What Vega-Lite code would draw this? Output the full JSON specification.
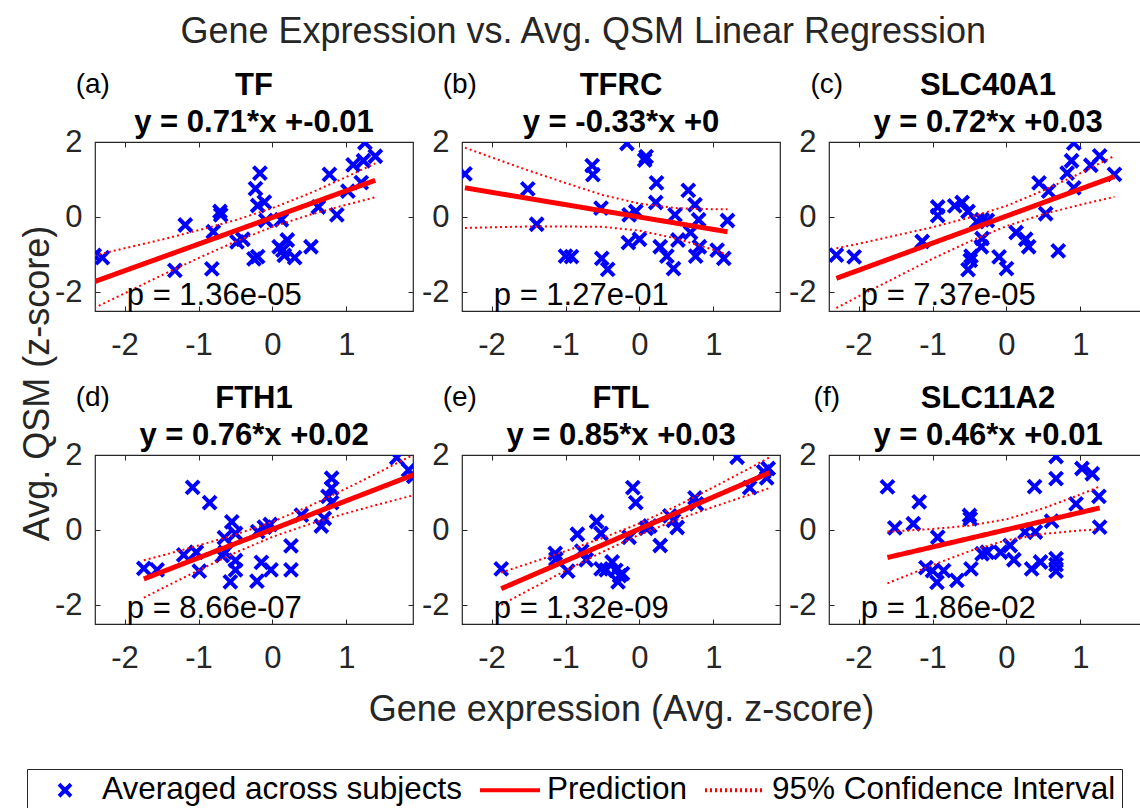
{
  "$schema": "https://vega.github.io/schema/vega-lite/v6.json",
  "background": "white",
  "padding": {"left": 18, "top": 13, "right": 5, "bottom": 5},
  "bounds": "flush",
  "title": {"text": "Gene Expression vs. Avg. QSM Linear Regression", "fontSize": 36, "fontWeight": "normal", "color": "#262626", "anchor": "middle", "offset": 19},
  "columns": 3,
  "spacing": {"row": 144, "column": 49},
  "datasets": {
    "pts": [
      {"p":"a","x":-2.41,"y":-1.02},{"p":"a","x":-2.30,"y":-1.08},{"p":"a","x":-1.32,"y":-1.42},{"p":"a","x":-1.18,"y":-0.21},{"p":"a","x":-0.82,"y":-1.38},{"p":"a","x":-0.80,"y":-0.39},{"p":"a","x":-0.71,"y":0.15},{"p":"a","x":-0.70,"y":0.06},{"p":"a","x":-0.48,"y":-0.66},{"p":"a","x":-0.40,"y":-0.59},{"p":"a","x":-0.25,"y":-1.11},{"p":"a","x":-0.20,"y":-1.05},{"p":"a","x":-0.23,"y":0.76},{"p":"a","x":-0.17,"y":1.17},{"p":"a","x":-0.20,"y":0.31},{"p":"a","x":-0.11,"y":0.40},{"p":"a","x":-0.09,"y":-0.09},{"p":"a","x":0.09,"y":-0.79},{"p":"a","x":0.14,"y":-0.88},{"p":"a","x":0.16,"y":-1.02},{"p":"a","x":0.20,"y":-0.61},{"p":"a","x":0.30,"y":-1.08},{"p":"a","x":0.12,"y":-0.07},{"p":"a","x":0.52,"y":-0.79},{"p":"a","x":0.62,"y":0.27},{"p":"a","x":0.77,"y":1.14},{"p":"a","x":0.87,"y":0.06},{"p":"a","x":1.02,"y":0.69},{"p":"a","x":1.09,"y":1.39},{"p":"a","x":1.20,"y":0.92},{"p":"a","x":1.23,"y":1.50},{"p":"a","x":1.25,"y":1.98},{"p":"a","x":1.39,"y":1.62},
      {"p":"b","x":-2.36,"y":1.15},{"p":"b","x":-1.51,"y":0.75},{"p":"b","x":-1.39,"y":-0.19},{"p":"b","x":-1.00,"y":-1.04},{"p":"b","x":-0.92,"y":-1.05},{"p":"b","x":-0.64,"y":1.37},{"p":"b","x":-0.63,"y":1.13},{"p":"b","x":-0.52,"y":0.24},{"p":"b","x":-0.51,"y":-1.10},{"p":"b","x":-0.43,"y":-1.39},{"p":"b","x":-0.17,"y":1.96},{"p":"b","x":-0.15,"y":-0.68},{"p":"b","x":-0.14,"y":0.06},{"p":"b","x":-0.05,"y":0.15},{"p":"b","x":0.00,"y":-0.59},{"p":"b","x":0.07,"y":1.52},{"p":"b","x":0.09,"y":1.61},{"p":"b","x":0.23,"y":0.91},{"p":"b","x":0.22,"y":0.39},{"p":"b","x":0.28,"y":-0.79},{"p":"b","x":0.37,"y":-1.04},{"p":"b","x":0.46,"y":-1.37},{"p":"b","x":0.48,"y":0.06},{"p":"b","x":0.52,"y":-0.61},{"p":"b","x":0.66,"y":0.71},{"p":"b","x":0.69,"y":-0.41},{"p":"b","x":0.75,"y":0.33},{"p":"b","x":0.80,"y":-0.07},{"p":"b","x":0.76,"y":-1.04},{"p":"b","x":0.81,"y":-0.79},{"p":"b","x":1.05,"y":-0.88},{"p":"b","x":1.14,"y":-1.10},{"p":"b","x":1.19,"y":-0.09},
      {"p":"c","x":-2.30,"y":-1.01},{"p":"c","x":-2.06,"y":-1.06},{"p":"c","x":-1.14,"y":-0.65},{"p":"c","x":-0.93,"y":0.27},{"p":"c","x":-0.93,"y":0.04},{"p":"c","x":-0.70,"y":0.30},{"p":"c","x":-0.60,"y":0.39},{"p":"c","x":-0.52,"y":0.15},{"p":"c","x":-0.40,"y":-0.12},{"p":"c","x":-0.33,"y":-0.07},{"p":"c","x":-0.26,"y":-0.09},{"p":"c","x":-0.33,"y":-0.57},{"p":"c","x":-0.34,"y":-0.79},{"p":"c","x":-0.48,"y":-1.04},{"p":"c","x":-0.49,"y":-1.15},{"p":"c","x":-0.52,"y":-1.40},{"p":"c","x":-0.10,"y":-1.06},{"p":"c","x":0.00,"y":-1.37},{"p":"c","x":0.13,"y":-0.41},{"p":"c","x":0.26,"y":-0.59},{"p":"c","x":0.30,"y":-0.79},{"p":"c","x":0.44,"y":0.91},{"p":"c","x":0.57,"y":0.69},{"p":"c","x":0.53,"y":0.09},{"p":"c","x":0.70,"y":-0.90},{"p":"c","x":0.82,"y":1.17},{"p":"c","x":0.88,"y":1.50},{"p":"c","x":0.91,"y":1.97},{"p":"c","x":0.91,"y":0.78},{"p":"c","x":1.14,"y":1.38},{"p":"c","x":1.26,"y":1.63},{"p":"c","x":1.46,"y":1.14},
      {"p":"d","x":-1.74,"y":-1.02},{"p":"d","x":-1.56,"y":-1.06},{"p":"d","x":-1.20,"y":-0.66},{"p":"d","x":-1.08,"y":1.14},{"p":"d","x":-1.03,"y":-0.59},{"p":"d","x":-0.99,"y":-1.09},{"p":"d","x":-0.85,"y":0.73},{"p":"d","x":-0.68,"y":-0.68},{"p":"d","x":-0.65,"y":-0.20},{"p":"d","x":-0.64,"y":-0.59},{"p":"d","x":-0.57,"y":-1.38},{"p":"d","x":-0.55,"y":0.22},{"p":"d","x":-0.50,"y":-0.09},{"p":"d","x":-0.50,"y":-0.81},{"p":"d","x":-0.50,"y":-1.06},{"p":"d","x":-0.21,"y":-1.36},{"p":"d","x":-0.20,"y":-0.04},{"p":"d","x":-0.15,"y":-0.86},{"p":"d","x":-0.11,"y":0.08},{"p":"d","x":-0.03,"y":0.15},{"p":"d","x":-0.02,"y":-1.06},{"p":"d","x":0.25,"y":-0.42},{"p":"d","x":0.25,"y":-1.06},{"p":"d","x":0.39,"y":0.40},{"p":"d","x":0.66,"y":0.11},{"p":"d","x":0.70,"y":0.31},{"p":"d","x":0.75,"y":0.90},{"p":"d","x":0.80,"y":1.38},{"p":"d","x":0.80,"y":1.12},{"p":"d","x":0.80,"y":0.73},{"p":"d","x":1.68,"y":1.93},{"p":"d","x":1.84,"y":1.60},{"p":"d","x":1.91,"y":1.43},
      {"p":"e","x":-1.87,"y":-1.03},{"p":"e","x":-1.14,"y":-0.62},{"p":"e","x":-1.13,"y":-0.77},{"p":"e","x":-0.97,"y":-1.09},{"p":"e","x":-0.84,"y":-0.11},{"p":"e","x":-0.78,"y":-0.56},{"p":"e","x":-0.72,"y":-0.79},{"p":"e","x":-0.58,"y":0.23},{"p":"e","x":-0.52,"y":-0.09},{"p":"e","x":-0.52,"y":-1.03},{"p":"e","x":-0.45,"y":-1.06},{"p":"e","x":-0.37,"y":-0.85},{"p":"e","x":-0.32,"y":-1.07},{"p":"e","x":-0.29,"y":-1.38},{"p":"e","x":-0.27,"y":-1.21},{"p":"e","x":-0.23,"y":-1.16},{"p":"e","x":-0.14,"y":-0.19},{"p":"e","x":-0.09,"y":1.13},{"p":"e","x":-0.05,"y":0.73},{"p":"e","x":0.09,"y":0.05},{"p":"e","x":0.14,"y":0.11},{"p":"e","x":0.28,"y":-0.41},{"p":"e","x":0.41,"y":0.38},{"p":"e","x":0.46,"y":0.26},{"p":"e","x":0.51,"y":0.07},{"p":"e","x":0.75,"y":0.86},{"p":"e","x":0.77,"y":0.70},{"p":"e","x":1.32,"y":1.94},{"p":"e","x":1.49,"y":1.13},{"p":"e","x":1.68,"y":1.55},{"p":"e","x":1.72,"y":1.39},{"p":"e","x":1.74,"y":1.64},
      {"p":"f","x":-1.61,"y":1.15},{"p":"f","x":-1.51,"y":0.06},{"p":"f","x":-1.26,"y":0.17},{"p":"f","x":-1.18,"y":0.75},{"p":"f","x":-0.93,"y":-0.19},{"p":"f","x":-1.09,"y":-1.00},{"p":"f","x":-1.00,"y":-1.08},{"p":"f","x":-0.94,"y":-1.39},{"p":"f","x":-0.85,"y":-1.08},{"p":"f","x":-0.67,"y":-1.34},{"p":"f","x":-0.50,"y":0.39},{"p":"f","x":-0.49,"y":0.30},{"p":"f","x":-0.48,"y":-1.03},{"p":"f","x":-0.33,"y":-0.63},{"p":"f","x":-0.26,"y":-0.59},{"p":"f","x":-0.08,"y":-0.59},{"p":"f","x":0.05,"y":-0.41},{"p":"f","x":0.10,"y":-0.79},{"p":"f","x":0.25,"y":-0.05},{"p":"f","x":0.34,"y":-1.03},{"p":"f","x":0.38,"y":1.16},{"p":"f","x":0.39,"y":-0.05},{"p":"f","x":0.46,"y":-0.85},{"p":"f","x":0.61,"y":0.24},{"p":"f","x":0.67,"y":1.96},{"p":"f","x":0.67,"y":1.37},{"p":"f","x":0.67,"y":-0.76},{"p":"f","x":0.67,"y":-0.92},{"p":"f","x":0.67,"y":-1.09},{"p":"f","x":0.94,"y":0.70},{"p":"f","x":1.02,"y":1.64},{"p":"f","x":1.16,"y":1.50},{"p":"f","x":1.25,"y":0.90},{"p":"f","x":1.26,"y":0.08}
    ],
    "lines": [
      {"p":"a","k":"fit","x":-2.41,"y":-1.72},{"p":"a","k":"fit","x":1.39,"y":0.98},
      {"p":"a","k":"up","x":-2.41,"y":-1.02},{"p":"a","k":"up","x":-2,"y":-0.83},{"p":"a","k":"up","x":-1.5,"y":-0.60},{"p":"a","k":"up","x":-1,"y":-0.35},{"p":"a","k":"up","x":-0.5,"y":-0.08},{"p":"a","k":"up","x":0,"y":0.24},{"p":"a","k":"up","x":0.5,"y":0.63},{"p":"a","k":"up","x":1,"y":1.07},{"p":"a","k":"up","x":1.39,"y":1.43},
      {"p":"a","k":"lo","x":-2.41,"y":-2.42},{"p":"a","k":"lo","x":-2,"y":-2.03},{"p":"a","k":"lo","x":-1.5,"y":-1.55},{"p":"a","k":"lo","x":-1,"y":-1.09},{"p":"a","k":"lo","x":-0.5,"y":-0.65},{"p":"a","k":"lo","x":0,"y":-0.26},{"p":"a","k":"lo","x":0.5,"y":0.06},{"p":"a","k":"lo","x":1,"y":0.33},{"p":"a","k":"lo","x":1.39,"y":0.53},
      {"p":"b","k":"fit","x":-2.36,"y":0.78},{"p":"b","k":"fit","x":1.19,"y":-0.39},
      {"p":"b","k":"up","x":-2.36,"y":1.85},{"p":"b","k":"up","x":-2,"y":1.59},{"p":"b","k":"up","x":-1.5,"y":1.24},{"p":"b","k":"up","x":-1,"y":0.91},{"p":"b","k":"up","x":-0.5,"y":0.59},{"p":"b","k":"up","x":0,"y":0.36},{"p":"b","k":"up","x":0.5,"y":0.24},{"p":"b","k":"up","x":1,"y":0.21},{"p":"b","k":"up","x":1.19,"y":0.21},
      {"p":"b","k":"lo","x":-2.36,"y":-0.29},{"p":"b","k":"lo","x":-2,"y":-0.27},{"p":"b","k":"lo","x":-1.5,"y":-0.25},{"p":"b","k":"lo","x":-1,"y":-0.25},{"p":"b","k":"lo","x":-0.5,"y":-0.26},{"p":"b","k":"lo","x":0,"y":-0.36},{"p":"b","k":"lo","x":0.5,"y":-0.57},{"p":"b","k":"lo","x":1,"y":-0.87},{"p":"b","k":"lo","x":1.19,"y":-1.0},
      {"p":"c","k":"fit","x":-2.30,"y":-1.63},{"p":"c","k":"fit","x":1.46,"y":1.08},
      {"p":"c","k":"up","x":-2.3,"y":-0.83},{"p":"c","k":"up","x":-2,"y":-0.71},{"p":"c","k":"up","x":-1.5,"y":-0.49},{"p":"c","k":"up","x":-1,"y":-0.27},{"p":"c","k":"up","x":-0.5,"y":-0.01},{"p":"c","k":"up","x":0,"y":0.30},{"p":"c","k":"up","x":0.5,"y":0.71},{"p":"c","k":"up","x":1,"y":1.17},{"p":"c","k":"up","x":1.46,"y":1.63},
      {"p":"c","k":"lo","x":-2.3,"y":-2.42},{"p":"c","k":"lo","x":-2,"y":-2.11},{"p":"c","k":"lo","x":-1.5,"y":-1.61},{"p":"c","k":"lo","x":-1,"y":-1.11},{"p":"c","k":"lo","x":-0.5,"y":-0.65},{"p":"c","k":"lo","x":0,"y":-0.24},{"p":"c","k":"lo","x":0.5,"y":0.08},{"p":"c","k":"lo","x":1,"y":0.33},{"p":"c","k":"lo","x":1.46,"y":0.54},
      {"p":"d","k":"fit","x":-1.74,"y":-1.30},{"p":"d","k":"fit","x":1.93,"y":1.49},
      {"p":"d","k":"up","x":-1.74,"y":-0.80},{"p":"d","k":"up","x":-1.5,"y":-0.68},{"p":"d","k":"up","x":-1,"y":-0.41},{"p":"d","k":"up","x":-0.5,"y":-0.12},{"p":"d","k":"up","x":0,"y":0.22},{"p":"d","k":"up","x":0.5,"y":0.64},{"p":"d","k":"up","x":1,"y":1.11},{"p":"d","k":"up","x":1.5,"y":1.60},{"p":"d","k":"up","x":1.93,"y":2.03},
      {"p":"d","k":"lo","x":-1.74,"y":-1.80},{"p":"d","k":"lo","x":-1.5,"y":-1.56},{"p":"d","k":"lo","x":-1,"y":-1.07},{"p":"d","k":"lo","x":-0.5,"y":-0.60},{"p":"d","k":"lo","x":0,"y":-0.18},{"p":"d","k":"lo","x":0.5,"y":0.16},{"p":"d","k":"lo","x":1,"y":0.45},{"p":"d","k":"lo","x":1.5,"y":0.72},{"p":"d","k":"lo","x":1.93,"y":0.94},
      {"p":"e","k":"fit","x":-1.87,"y":-1.56},{"p":"e","k":"fit","x":1.76,"y":1.53},
      {"p":"e","k":"up","x":-1.87,"y":-1.13},{"p":"e","k":"up","x":-1.5,"y":-0.89},{"p":"e","k":"up","x":-1,"y":-0.56},{"p":"e","k":"up","x":-0.5,"y":-0.21},{"p":"e","k":"up","x":0,"y":0.18},{"p":"e","k":"up","x":0.5,"y":0.64},{"p":"e","k":"up","x":1,"y":1.14},{"p":"e","k":"up","x":1.5,"y":1.66},{"p":"e","k":"up","x":1.76,"y":1.94},
      {"p":"e","k":"lo","x":-1.87,"y":-1.99},{"p":"e","k":"lo","x":-1.5,"y":-1.60},{"p":"e","k":"lo","x":-1,"y":-1.08},{"p":"e","k":"lo","x":-0.5,"y":-0.58},{"p":"e","k":"lo","x":0,"y":-0.12},{"p":"e","k":"lo","x":0.5,"y":0.27},{"p":"e","k":"lo","x":1,"y":0.62},{"p":"e","k":"lo","x":1.5,"y":0.95},{"p":"e","k":"lo","x":1.76,"y":1.12},
      {"p":"f","k":"fit","x":-1.61,"y":-0.73},{"p":"f","k":"fit","x":1.26,"y":0.59},
      {"p":"f","k":"up","x":-1.61,"y":-0.04},{"p":"f","k":"up","x":-1.5,"y":-0.03},{"p":"f","k":"up","x":-1,"y":0.03},{"p":"f","k":"up","x":-0.5,"y":0.12},{"p":"f","k":"up","x":0,"y":0.29},{"p":"f","k":"up","x":0.5,"y":0.58},{"p":"f","k":"up","x":1,"y":0.95},{"p":"f","k":"up","x":1.26,"y":1.16},
      {"p":"f","k":"lo","x":-1.61,"y":-1.42},{"p":"f","k":"lo","x":-1.5,"y":-1.33},{"p":"f","k":"lo","x":-1,"y":-0.93},{"p":"f","k":"lo","x":-0.5,"y":-0.56},{"p":"f","k":"lo","x":0,"y":-0.27},{"p":"f","k":"lo","x":0.5,"y":-0.10},{"p":"f","k":"lo","x":1,"y":-0.01},{"p":"f","k":"lo","x":1.26,"y":0.02}
    ],
    "info": [
      {"p":"a","tag":"(a)","pv":"p = 1.36e-05"},
      {"p":"b","tag":"(b)","pv":"p = 1.27e-01"},
      {"p":"c","tag":"(c)","pv":"p = 7.37e-05"},
      {"p":"d","tag":"(d)","pv":"p = 8.66e-07"},
      {"p":"e","tag":"(e)","pv":"p = 1.32e-09"},
      {"p":"f","tag":"(f)","pv":"p = 1.86e-02"}
    ]
  },
  "concat": [
    {
      "width": 318, "height": 169,
      "title": {"text": ["TF", "y = 0.71*x +-0.01"], "dy": 74},
      "resolve": {"axis": {"x": "independent", "y": "independent"}},
      "layer": [
        {"data": {"name": "pts"}, "transform": [{"filter": "datum.p == 'a'"}],
         "mark": {"type": "point", "filled": false, "strokeWidth": 4, "size": 4225, "opacity": 1, "clip": true},
         "encoding": {
           "x": {"field": "x", "type": "quantitative", "scale": {"domain": [-2.4, 1.9], "nice": false, "zero": false}, "axis": {"values": [-2, -1, 0, 1], "title": null}},
           "y": {"field": "y", "type": "quantitative", "scale": {"domain": [-2.5, 2], "nice": false, "zero": false}, "axis": {"values": [-2, 0, 2], "title": "Avg. QSM (z-score)", "titleX": -39, "titleY": 241}},
           "color": {"datum": "Averaged across subjects", "scale": {"domain": ["Averaged across subjects", "Prediction", "95% Confidence Interval"], "range": ["#0000ff", "#ff0000", "#ff0000"]}, "legend": {"title": null, "orient": "none", "legendX": -68, "legendY": 627, "direction": "horizontal"}},
           "shape": {"datum": "Averaged across subjects", "scale": {"domain": ["Averaged across subjects", "Prediction", "95% Confidence Interval"], "range": ["M-0.2,-0.2L0.2,0.2M-0.2,0.2L0.2,-0.2", "stroke", "stroke"]}, "legend": {"title": null, "orient": "none", "legendX": -68, "legendY": 627, "direction": "horizontal"}}
         }},
        {"data": {"name": "lines"}, "transform": [{"filter": "datum.p == 'a' && datum.k == 'fit'"}],
         "mark": {"type": "line", "strokeWidth": 5, "clip": true},
         "encoding": {
           "x": {"field": "x", "type": "quantitative", "scale": {"domain": [-2.4, 1.9], "nice": false, "zero": false}, "axis": null},
           "y": {"field": "y", "type": "quantitative", "scale": {"domain": [-2.5, 2], "nice": false, "zero": false}, "axis": null},
           "color": {"datum": "Prediction", "scale": {"domain": ["Averaged across subjects", "Prediction", "95% Confidence Interval"], "range": ["#0000ff", "#ff0000", "#ff0000"]}},
           "strokeDash": {"datum": "Prediction", "scale": {"domain": ["Averaged across subjects", "Prediction", "95% Confidence Interval"], "range": [[1, 0], [1, 0], [2, 3]]}}
         }},
        {"data": {"name": "lines"}, "transform": [{"filter": "datum.p == 'a' && datum.k != 'fit'"}],
         "mark": {"type": "line", "strokeWidth": 2, "clip": true},
         "encoding": {
           "x": {"field": "x", "type": "quantitative", "scale": {"domain": [-2.4, 1.9], "nice": false, "zero": false}, "axis": {"orient": "top", "values": [-2, -1, 0, 1], "labels": false, "title": null}},
           "y": {"field": "y", "type": "quantitative", "scale": {"domain": [-2.5, 2], "nice": false, "zero": false}, "axis": {"orient": "right", "values": [-2, 0, 2], "labels": false, "title": null}},
           "detail": {"field": "k"},
           "color": {"datum": "95% Confidence Interval", "scale": {"domain": ["Averaged across subjects", "Prediction", "95% Confidence Interval"], "range": ["#0000ff", "#ff0000", "#ff0000"]}},
           "strokeDash": {"datum": "95% Confidence Interval", "scale": {"domain": ["Averaged across subjects", "Prediction", "95% Confidence Interval"], "range": [[1, 0], [1, 0], [2, 3]]}}
         }},
        {"data": {"name": "info"}, "transform": [{"filter": "datum.p == 'a'"}],
         "mark": {"type": "text", "align": "left", "baseline": "alphabetic", "fontSize": 31, "color": "#000000"},
         "encoding": {
           "x": {"datum": -1.97, "type": "quantitative", "scale": {"domain": [-2.4, 1.9], "nice": false, "zero": false}, "axis": null},
           "y": {"datum": -2.35, "type": "quantitative", "scale": {"domain": [-2.5, 2], "nice": false, "zero": false}, "axis": null},
           "text": {"field": "pv"}
         }},
        {"data": {"name": "info"}, "transform": [{"filter": "datum.p == 'a'"}],
         "mark": {"type": "text", "align": "center", "baseline": "middle", "fontSize": 28, "color": "#000000"},
         "encoding": {
           "x": {"datum": -2.43, "type": "quantitative", "scale": {"domain": [-2.4, 1.9], "nice": false, "zero": false}, "axis": null},
           "y": {"datum": 3.51, "type": "quantitative", "scale": {"domain": [-2.5, 2], "nice": false, "zero": false}, "axis": null},
           "text": {"field": "tag"}
         }}
      ]
    },
    {
      "width": 318, "height": 169,
      "title": {"text": ["TFRC", "y = -0.33*x +0"], "dy": 74},
      "resolve": {"axis": {"x": "independent", "y": "independent"}},
      "layer": [
        {"data": {"name": "pts"}, "transform": [{"filter": "datum.p == 'b'"}],
         "mark": {"type": "point", "filled": false, "strokeWidth": 4, "size": 4225, "opacity": 1, "clip": true},
         "encoding": {
           "x": {"field": "x", "type": "quantitative", "scale": {"domain": [-2.4, 1.9], "nice": false, "zero": false}, "axis": {"values": [-2, -1, 0, 1], "title": null}},
           "y": {"field": "y", "type": "quantitative", "scale": {"domain": [-2.5, 2], "nice": false, "zero": false}, "axis": {"values": [-2, 0, 2], "title": null}},
           "color": {"datum": "Averaged across subjects", "scale": {"domain": ["Averaged across subjects", "Prediction", "95% Confidence Interval"], "range": ["#0000ff", "#ff0000", "#ff0000"]}},
           "shape": {"datum": "Averaged across subjects", "scale": {"domain": ["Averaged across subjects", "Prediction", "95% Confidence Interval"], "range": ["M-0.2,-0.2L0.2,0.2M-0.2,0.2L0.2,-0.2", "stroke", "stroke"]}}
         }},
        {"data": {"name": "lines"}, "transform": [{"filter": "datum.p == 'b' && datum.k == 'fit'"}],
         "mark": {"type": "line", "strokeWidth": 5, "clip": true},
         "encoding": {
           "x": {"field": "x", "type": "quantitative", "scale": {"domain": [-2.4, 1.9], "nice": false, "zero": false}, "axis": null},
           "y": {"field": "y", "type": "quantitative", "scale": {"domain": [-2.5, 2], "nice": false, "zero": false}, "axis": null},
           "color": {"datum": "Prediction", "scale": {"domain": ["Averaged across subjects", "Prediction", "95% Confidence Interval"], "range": ["#0000ff", "#ff0000", "#ff0000"]}},
           "strokeDash": {"datum": "Prediction", "scale": {"domain": ["Averaged across subjects", "Prediction", "95% Confidence Interval"], "range": [[1, 0], [1, 0], [2, 3]]}}
         }},
        {"data": {"name": "lines"}, "transform": [{"filter": "datum.p == 'b' && datum.k != 'fit'"}],
         "mark": {"type": "line", "strokeWidth": 2, "clip": true},
         "encoding": {
           "x": {"field": "x", "type": "quantitative", "scale": {"domain": [-2.4, 1.9], "nice": false, "zero": false}, "axis": {"orient": "top", "values": [-2, -1, 0, 1], "labels": false, "title": null}},
           "y": {"field": "y", "type": "quantitative", "scale": {"domain": [-2.5, 2], "nice": false, "zero": false}, "axis": {"orient": "right", "values": [-2, 0, 2], "labels": false, "title": null}},
           "detail": {"field": "k"},
           "color": {"datum": "95% Confidence Interval", "scale": {"domain": ["Averaged across subjects", "Prediction", "95% Confidence Interval"], "range": ["#0000ff", "#ff0000", "#ff0000"]}},
           "strokeDash": {"datum": "95% Confidence Interval", "scale": {"domain": ["Averaged across subjects", "Prediction", "95% Confidence Interval"], "range": [[1, 0], [1, 0], [2, 3]]}}
         }},
        {"data": {"name": "info"}, "transform": [{"filter": "datum.p == 'b'"}],
         "mark": {"type": "text", "align": "left", "baseline": "alphabetic", "fontSize": 31, "color": "#000000"},
         "encoding": {
           "x": {"datum": -1.97, "type": "quantitative", "scale": {"domain": [-2.4, 1.9], "nice": false, "zero": false}, "axis": null},
           "y": {"datum": -2.35, "type": "quantitative", "scale": {"domain": [-2.5, 2], "nice": false, "zero": false}, "axis": null},
           "text": {"field": "pv"}
         }},
        {"data": {"name": "info"}, "transform": [{"filter": "datum.p == 'b'"}],
         "mark": {"type": "text", "align": "center", "baseline": "middle", "fontSize": 28, "color": "#000000"},
         "encoding": {
           "x": {"datum": -2.43, "type": "quantitative", "scale": {"domain": [-2.4, 1.9], "nice": false, "zero": false}, "axis": null},
           "y": {"datum": 3.51, "type": "quantitative", "scale": {"domain": [-2.5, 2], "nice": false, "zero": false}, "axis": null},
           "text": {"field": "tag"}
         }}
      ]
    },
    {
      "width": 318, "height": 169,
      "title": {"text": ["SLC40A1", "y = 0.72*x +0.03"], "dy": 74},
      "resolve": {"axis": {"x": "independent", "y": "independent"}},
      "layer": [
        {"data": {"name": "pts"}, "transform": [{"filter": "datum.p == 'c'"}],
         "mark": {"type": "point", "filled": false, "strokeWidth": 4, "size": 4225, "opacity": 1, "clip": true},
         "encoding": {
           "x": {"field": "x", "type": "quantitative", "scale": {"domain": [-2.4, 1.9], "nice": false, "zero": false}, "axis": {"values": [-2, -1, 0, 1], "title": null}},
           "y": {"field": "y", "type": "quantitative", "scale": {"domain": [-2.5, 2], "nice": false, "zero": false}, "axis": {"values": [-2, 0, 2], "title": null}},
           "color": {"datum": "Averaged across subjects", "scale": {"domain": ["Averaged across subjects", "Prediction", "95% Confidence Interval"], "range": ["#0000ff", "#ff0000", "#ff0000"]}},
           "shape": {"datum": "Averaged across subjects", "scale": {"domain": ["Averaged across subjects", "Prediction", "95% Confidence Interval"], "range": ["M-0.2,-0.2L0.2,0.2M-0.2,0.2L0.2,-0.2", "stroke", "stroke"]}}
         }},
        {"data": {"name": "lines"}, "transform": [{"filter": "datum.p == 'c' && datum.k == 'fit'"}],
         "mark": {"type": "line", "strokeWidth": 5, "clip": true},
         "encoding": {
           "x": {"field": "x", "type": "quantitative", "scale": {"domain": [-2.4, 1.9], "nice": false, "zero": false}, "axis": null},
           "y": {"field": "y", "type": "quantitative", "scale": {"domain": [-2.5, 2], "nice": false, "zero": false}, "axis": null},
           "color": {"datum": "Prediction", "scale": {"domain": ["Averaged across subjects", "Prediction", "95% Confidence Interval"], "range": ["#0000ff", "#ff0000", "#ff0000"]}},
           "strokeDash": {"datum": "Prediction", "scale": {"domain": ["Averaged across subjects", "Prediction", "95% Confidence Interval"], "range": [[1, 0], [1, 0], [2, 3]]}}
         }},
        {"data": {"name": "lines"}, "transform": [{"filter": "datum.p == 'c' && datum.k != 'fit'"}],
         "mark": {"type": "line", "strokeWidth": 2, "clip": true},
         "encoding": {
           "x": {"field": "x", "type": "quantitative", "scale": {"domain": [-2.4, 1.9], "nice": false, "zero": false}, "axis": {"orient": "top", "values": [-2, -1, 0, 1], "labels": false, "title": null}},
           "y": {"field": "y", "type": "quantitative", "scale": {"domain": [-2.5, 2], "nice": false, "zero": false}, "axis": {"orient": "right", "values": [-2, 0, 2], "labels": false, "title": null}},
           "detail": {"field": "k"},
           "color": {"datum": "95% Confidence Interval", "scale": {"domain": ["Averaged across subjects", "Prediction", "95% Confidence Interval"], "range": ["#0000ff", "#ff0000", "#ff0000"]}},
           "strokeDash": {"datum": "95% Confidence Interval", "scale": {"domain": ["Averaged across subjects", "Prediction", "95% Confidence Interval"], "range": [[1, 0], [1, 0], [2, 3]]}}
         }},
        {"data": {"name": "info"}, "transform": [{"filter": "datum.p == 'c'"}],
         "mark": {"type": "text", "align": "left", "baseline": "alphabetic", "fontSize": 31, "color": "#000000"},
         "encoding": {
           "x": {"datum": -1.97, "type": "quantitative", "scale": {"domain": [-2.4, 1.9], "nice": false, "zero": false}, "axis": null},
           "y": {"datum": -2.35, "type": "quantitative", "scale": {"domain": [-2.5, 2], "nice": false, "zero": false}, "axis": null},
           "text": {"field": "pv"}
         }},
        {"data": {"name": "info"}, "transform": [{"filter": "datum.p == 'c'"}],
         "mark": {"type": "text", "align": "center", "baseline": "middle", "fontSize": 28, "color": "#000000"},
         "encoding": {
           "x": {"datum": -2.43, "type": "quantitative", "scale": {"domain": [-2.4, 1.9], "nice": false, "zero": false}, "axis": null},
           "y": {"datum": 3.51, "type": "quantitative", "scale": {"domain": [-2.5, 2], "nice": false, "zero": false}, "axis": null},
           "text": {"field": "tag"}
         }}
      ]
    },
    {
      "width": 318, "height": 169,
      "title": {"text": ["FTH1", "y = 0.76*x +0.02"], "dy": 74},
      "resolve": {"axis": {"x": "independent", "y": "independent"}},
      "layer": [
        {"data": {"name": "pts"}, "transform": [{"filter": "datum.p == 'd'"}],
         "mark": {"type": "point", "filled": false, "strokeWidth": 4, "size": 4225, "opacity": 1, "clip": true},
         "encoding": {
           "x": {"field": "x", "type": "quantitative", "scale": {"domain": [-2.4, 1.9], "nice": false, "zero": false}, "axis": {"values": [-2, -1, 0, 1], "title": null}},
           "y": {"field": "y", "type": "quantitative", "scale": {"domain": [-2.5, 2], "nice": false, "zero": false}, "axis": {"values": [-2, 0, 2], "title": null}},
           "color": {"datum": "Averaged across subjects", "scale": {"domain": ["Averaged across subjects", "Prediction", "95% Confidence Interval"], "range": ["#0000ff", "#ff0000", "#ff0000"]}},
           "shape": {"datum": "Averaged across subjects", "scale": {"domain": ["Averaged across subjects", "Prediction", "95% Confidence Interval"], "range": ["M-0.2,-0.2L0.2,0.2M-0.2,0.2L0.2,-0.2", "stroke", "stroke"]}}
         }},
        {"data": {"name": "lines"}, "transform": [{"filter": "datum.p == 'd' && datum.k == 'fit'"}],
         "mark": {"type": "line", "strokeWidth": 5, "clip": true},
         "encoding": {
           "x": {"field": "x", "type": "quantitative", "scale": {"domain": [-2.4, 1.9], "nice": false, "zero": false}, "axis": null},
           "y": {"field": "y", "type": "quantitative", "scale": {"domain": [-2.5, 2], "nice": false, "zero": false}, "axis": null},
           "color": {"datum": "Prediction", "scale": {"domain": ["Averaged across subjects", "Prediction", "95% Confidence Interval"], "range": ["#0000ff", "#ff0000", "#ff0000"]}},
           "strokeDash": {"datum": "Prediction", "scale": {"domain": ["Averaged across subjects", "Prediction", "95% Confidence Interval"], "range": [[1, 0], [1, 0], [2, 3]]}}
         }},
        {"data": {"name": "lines"}, "transform": [{"filter": "datum.p == 'd' && datum.k != 'fit'"}],
         "mark": {"type": "line", "strokeWidth": 2, "clip": true},
         "encoding": {
           "x": {"field": "x", "type": "quantitative", "scale": {"domain": [-2.4, 1.9], "nice": false, "zero": false}, "axis": {"orient": "top", "values": [-2, -1, 0, 1], "labels": false, "title": null}},
           "y": {"field": "y", "type": "quantitative", "scale": {"domain": [-2.5, 2], "nice": false, "zero": false}, "axis": {"orient": "right", "values": [-2, 0, 2], "labels": false, "title": null}},
           "detail": {"field": "k"},
           "color": {"datum": "95% Confidence Interval", "scale": {"domain": ["Averaged across subjects", "Prediction", "95% Confidence Interval"], "range": ["#0000ff", "#ff0000", "#ff0000"]}},
           "strokeDash": {"datum": "95% Confidence Interval", "scale": {"domain": ["Averaged across subjects", "Prediction", "95% Confidence Interval"], "range": [[1, 0], [1, 0], [2, 3]]}}
         }},
        {"data": {"name": "info"}, "transform": [{"filter": "datum.p == 'd'"}],
         "mark": {"type": "text", "align": "left", "baseline": "alphabetic", "fontSize": 31, "color": "#000000"},
         "encoding": {
           "x": {"datum": -1.97, "type": "quantitative", "scale": {"domain": [-2.4, 1.9], "nice": false, "zero": false}, "axis": null},
           "y": {"datum": -2.35, "type": "quantitative", "scale": {"domain": [-2.5, 2], "nice": false, "zero": false}, "axis": null},
           "text": {"field": "pv"}
         }},
        {"data": {"name": "info"}, "transform": [{"filter": "datum.p == 'd'"}],
         "mark": {"type": "text", "align": "center", "baseline": "middle", "fontSize": 28, "color": "#000000"},
         "encoding": {
           "x": {"datum": -2.43, "type": "quantitative", "scale": {"domain": [-2.4, 1.9], "nice": false, "zero": false}, "axis": null},
           "y": {"datum": 3.51, "type": "quantitative", "scale": {"domain": [-2.5, 2], "nice": false, "zero": false}, "axis": null},
           "text": {"field": "tag"}
         }}
      ]
    },
    {
      "width": 318, "height": 169,
      "title": {"text": ["FTL", "y = 0.85*x +0.03"], "dy": 74},
      "resolve": {"axis": {"x": "independent", "y": "independent"}},
      "layer": [
        {"data": {"name": "pts"}, "transform": [{"filter": "datum.p == 'e'"}],
         "mark": {"type": "point", "filled": false, "strokeWidth": 4, "size": 4225, "opacity": 1, "clip": true},
         "encoding": {
           "x": {"field": "x", "type": "quantitative", "scale": {"domain": [-2.4, 1.9], "nice": false, "zero": false}, "axis": {"values": [-2, -1, 0, 1], "title": "Gene expression (Avg. z-score)", "titlePadding": 19}},
           "y": {"field": "y", "type": "quantitative", "scale": {"domain": [-2.5, 2], "nice": false, "zero": false}, "axis": {"values": [-2, 0, 2], "title": null}},
           "color": {"datum": "Averaged across subjects", "scale": {"domain": ["Averaged across subjects", "Prediction", "95% Confidence Interval"], "range": ["#0000ff", "#ff0000", "#ff0000"]}},
           "shape": {"datum": "Averaged across subjects", "scale": {"domain": ["Averaged across subjects", "Prediction", "95% Confidence Interval"], "range": ["M-0.2,-0.2L0.2,0.2M-0.2,0.2L0.2,-0.2", "stroke", "stroke"]}}
         }},
        {"data": {"name": "lines"}, "transform": [{"filter": "datum.p == 'e' && datum.k == 'fit'"}],
         "mark": {"type": "line", "strokeWidth": 5, "clip": true},
         "encoding": {
           "x": {"field": "x", "type": "quantitative", "scale": {"domain": [-2.4, 1.9], "nice": false, "zero": false}, "axis": null},
           "y": {"field": "y", "type": "quantitative", "scale": {"domain": [-2.5, 2], "nice": false, "zero": false}, "axis": null},
           "color": {"datum": "Prediction", "scale": {"domain": ["Averaged across subjects", "Prediction", "95% Confidence Interval"], "range": ["#0000ff", "#ff0000", "#ff0000"]}},
           "strokeDash": {"datum": "Prediction", "scale": {"domain": ["Averaged across subjects", "Prediction", "95% Confidence Interval"], "range": [[1, 0], [1, 0], [2, 3]]}}
         }},
        {"data": {"name": "lines"}, "transform": [{"filter": "datum.p == 'e' && datum.k != 'fit'"}],
         "mark": {"type": "line", "strokeWidth": 2, "clip": true},
         "encoding": {
           "x": {"field": "x", "type": "quantitative", "scale": {"domain": [-2.4, 1.9], "nice": false, "zero": false}, "axis": {"orient": "top", "values": [-2, -1, 0, 1], "labels": false, "title": null}},
           "y": {"field": "y", "type": "quantitative", "scale": {"domain": [-2.5, 2], "nice": false, "zero": false}, "axis": {"orient": "right", "values": [-2, 0, 2], "labels": false, "title": null}},
           "detail": {"field": "k"},
           "color": {"datum": "95% Confidence Interval", "scale": {"domain": ["Averaged across subjects", "Prediction", "95% Confidence Interval"], "range": ["#0000ff", "#ff0000", "#ff0000"]}},
           "strokeDash": {"datum": "95% Confidence Interval", "scale": {"domain": ["Averaged across subjects", "Prediction", "95% Confidence Interval"], "range": [[1, 0], [1, 0], [2, 3]]}}
         }},
        {"data": {"name": "info"}, "transform": [{"filter": "datum.p == 'e'"}],
         "mark": {"type": "text", "align": "left", "baseline": "alphabetic", "fontSize": 31, "color": "#000000"},
         "encoding": {
           "x": {"datum": -1.97, "type": "quantitative", "scale": {"domain": [-2.4, 1.9], "nice": false, "zero": false}, "axis": null},
           "y": {"datum": -2.35, "type": "quantitative", "scale": {"domain": [-2.5, 2], "nice": false, "zero": false}, "axis": null},
           "text": {"field": "pv"}
         }},
        {"data": {"name": "info"}, "transform": [{"filter": "datum.p == 'e'"}],
         "mark": {"type": "text", "align": "center", "baseline": "middle", "fontSize": 28, "color": "#000000"},
         "encoding": {
           "x": {"datum": -2.43, "type": "quantitative", "scale": {"domain": [-2.4, 1.9], "nice": false, "zero": false}, "axis": null},
           "y": {"datum": 3.51, "type": "quantitative", "scale": {"domain": [-2.5, 2], "nice": false, "zero": false}, "axis": null},
           "text": {"field": "tag"}
         }}
      ]
    },
    {
      "width": 318, "height": 169,
      "title": {"text": ["SLC11A2", "y = 0.46*x +0.01"], "dy": 74},
      "resolve": {"axis": {"x": "independent", "y": "independent"}},
      "layer": [
        {"data": {"name": "pts"}, "transform": [{"filter": "datum.p == 'f'"}],
         "mark": {"type": "point", "filled": false, "strokeWidth": 4, "size": 4225, "opacity": 1, "clip": true},
         "encoding": {
           "x": {"field": "x", "type": "quantitative", "scale": {"domain": [-2.4, 1.9], "nice": false, "zero": false}, "axis": {"values": [-2, -1, 0, 1], "title": null}},
           "y": {"field": "y", "type": "quantitative", "scale": {"domain": [-2.5, 2], "nice": false, "zero": false}, "axis": {"values": [-2, 0, 2], "title": null}},
           "color": {"datum": "Averaged across subjects", "scale": {"domain": ["Averaged across subjects", "Prediction", "95% Confidence Interval"], "range": ["#0000ff", "#ff0000", "#ff0000"]}},
           "shape": {"datum": "Averaged across subjects", "scale": {"domain": ["Averaged across subjects", "Prediction", "95% Confidence Interval"], "range": ["M-0.2,-0.2L0.2,0.2M-0.2,0.2L0.2,-0.2", "stroke", "stroke"]}}
         }},
        {"data": {"name": "lines"}, "transform": [{"filter": "datum.p == 'f' && datum.k == 'fit'"}],
         "mark": {"type": "line", "strokeWidth": 5, "clip": true},
         "encoding": {
           "x": {"field": "x", "type": "quantitative", "scale": {"domain": [-2.4, 1.9], "nice": false, "zero": false}, "axis": null},
           "y": {"field": "y", "type": "quantitative", "scale": {"domain": [-2.5, 2], "nice": false, "zero": false}, "axis": null},
           "color": {"datum": "Prediction", "scale": {"domain": ["Averaged across subjects", "Prediction", "95% Confidence Interval"], "range": ["#0000ff", "#ff0000", "#ff0000"]}},
           "strokeDash": {"datum": "Prediction", "scale": {"domain": ["Averaged across subjects", "Prediction", "95% Confidence Interval"], "range": [[1, 0], [1, 0], [2, 3]]}}
         }},
        {"data": {"name": "lines"}, "transform": [{"filter": "datum.p == 'f' && datum.k != 'fit'"}],
         "mark": {"type": "line", "strokeWidth": 2, "clip": true},
         "encoding": {
           "x": {"field": "x", "type": "quantitative", "scale": {"domain": [-2.4, 1.9], "nice": false, "zero": false}, "axis": {"orient": "top", "values": [-2, -1, 0, 1], "labels": false, "title": null}},
           "y": {"field": "y", "type": "quantitative", "scale": {"domain": [-2.5, 2], "nice": false, "zero": false}, "axis": {"orient": "right", "values": [-2, 0, 2], "labels": false, "title": null}},
           "detail": {"field": "k"},
           "color": {"datum": "95% Confidence Interval", "scale": {"domain": ["Averaged across subjects", "Prediction", "95% Confidence Interval"], "range": ["#0000ff", "#ff0000", "#ff0000"]}},
           "strokeDash": {"datum": "95% Confidence Interval", "scale": {"domain": ["Averaged across subjects", "Prediction", "95% Confidence Interval"], "range": [[1, 0], [1, 0], [2, 3]]}}
         }},
        {"data": {"name": "info"}, "transform": [{"filter": "datum.p == 'f'"}],
         "mark": {"type": "text", "align": "left", "baseline": "alphabetic", "fontSize": 31, "color": "#000000"},
         "encoding": {
           "x": {"datum": -1.97, "type": "quantitative", "scale": {"domain": [-2.4, 1.9], "nice": false, "zero": false}, "axis": null},
           "y": {"datum": -2.35, "type": "quantitative", "scale": {"domain": [-2.5, 2], "nice": false, "zero": false}, "axis": null},
           "text": {"field": "pv"}
         }},
        {"data": {"name": "info"}, "transform": [{"filter": "datum.p == 'f'"}],
         "mark": {"type": "text", "align": "center", "baseline": "middle", "fontSize": 28, "color": "#000000"},
         "encoding": {
           "x": {"datum": -2.43, "type": "quantitative", "scale": {"domain": [-2.4, 1.9], "nice": false, "zero": false}, "axis": null},
           "y": {"datum": 3.51, "type": "quantitative", "scale": {"domain": [-2.5, 2], "nice": false, "zero": false}, "axis": null},
           "text": {"field": "tag"}
         }}
      ]
    }
  ],
  "config": {
    "font": "Liberation Sans",
    "view": {"stroke": "#262626", "strokeWidth": 1.2},
    "axis": {"domain": false, "grid": false, "ticks": true, "tickSize": -5, "tickColor": "#262626", "tickWidth": 1, "labelColor": "#262626", "labelFontSize": 31, "labelPadding": 18, "labelFlush": false, "labelOverlap": false, "labelExpr": "'' + datum.value", "titleColor": "#262626", "titleFontSize": 36, "titleFontWeight": "normal"},
    "axisX": {"labelPadding": 24},
    "title": {"fontSize": 31, "fontWeight": "bold", "color": "#000000", "lineHeight": 37, "offset": 6, "anchor": "middle"},
    "legend": {"orient": "none", "direction": "horizontal", "labelFontSize": 31.5, "labelColor": "#000000", "symbolSize": 3600, "symbolStrokeWidth": 4, "clipHeight": 30, "labelOffset": 5, "columnPadding": 15, "padding": 6, "strokeColor": "#262626", "fillColor": "#ffffff", "labelLimit": 1000}
  }
}
